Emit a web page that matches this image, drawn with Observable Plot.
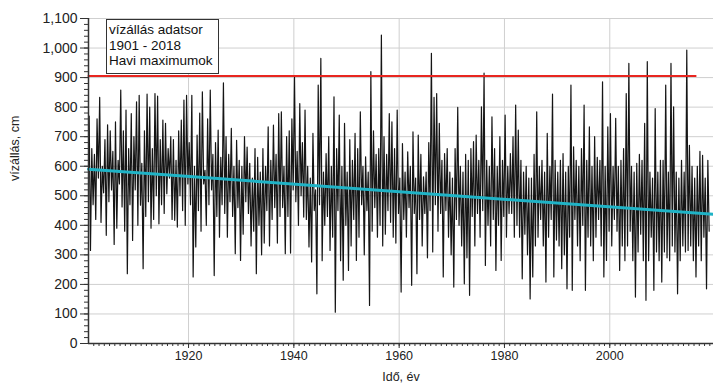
<!DOCTYPE html>
<html>
<head>
<meta charset="utf-8">
<script src="https://cdn.jsdelivr.net/npm/d3@7"></script>
<script src="https://cdn.jsdelivr.net/npm/@observablehq/plot@0.6"></script>
<style>
  html, body { margin: 0; padding: 0; background: #fff; }
  #wrap { position: relative; width: 713px; height: 388px; font-family: "Liberation Sans", Arial, sans-serif; }
  #legend { position: absolute; left: 106px; top: 19px; width: 109px; height: 51px; border: 1.5px solid #333; background: #fff;
            font-size: 13.5px; line-height: 15.5px; color: #111; padding: 2px 0 0 2px; box-sizing: content-box; white-space: nowrap; }
</style>
</head>
<body>
<div id="wrap"><div id="legend">vízállás adatsor<br>1901 - 2018<br>Havi maximumok</div></div>
<script>
// Monthly-maximum water level (cm), read as four turning points per year, 1901–2018
const startYear = 1901;
const levels = [
  770,315,660,470, 640,420,760,560, 833,410,600,510, 690,366,740,480, 720,520,650,335, // 1901-1905
  750,390,620,540, 858,462,720,380, 790,236,660,470, 778,349,700,520, 818,400,840,468, // 1906-1910
  610,253,720,430, 844,480,800,390, 660,420,846,500, 837,405,690,470, 756,440,745,507, // 1911-1915
  660,560,700,420, 690,417,620,394, 720,500,756,450, 824,400,840,540, 680,470,840,225, // 1916-1920
  600,327,705,450, 780,380,852,540, 586,400,760,470, 858,520,640,230, 680,430,722,360, // 1921-1925
  630,470,882,440, 700,360,640,480, 728,430,600,304, 688,460,620,281, 600,370,700,480, // 1926-1930
  665,440,610,330, 560,380,660,236, 630,400,580,300, 660,340,600,450, 733,330,620,420, // 1931-1935
  739,460,640,340, 778,430,784,460, 600,304,700,430, 720,306,760,520, 903,480,650,400, // 1936-1940
  812,500,680,428, 790,420,600,327, 560,276,711,450, 520,168,875,470, 965,280,580,400, // 1941-1945
  643,430,700,315, 600,360,835,106, 660,450,773,280, 600,214,745,400, 580,247,690,330, // 1946-1950
  620,420,711,281, 660,360,784,470, 600,300,632,450, 580,129,920,380, 720,460,640,360, // 1951-1955
  660,400,1044,330, 700,370,640,450, 778,410,750,360, 660,340,790,440, 560,174,677,420, // 1956-1960
  580,360,649,460, 600,197,716,440, 560,236,705,420, 640,330,564,440, 580,290,680,450, // 1961-1965
  982,310,833,470, 846,380,745,440, 620,225,643,450, 660,360,580,300, 560,191,660,420, // 1966-1970
  799,400,600,330, 580,202,640,290, 620,163,660,430, 683,330,705,440, 620,360,801,450, // 1971-1975
  915,264,620,400, 600,330,767,420, 660,247,600,400, 700,281,620,430, 773,360,600,440, // 1976-1980
  643,440,700,360, 807,400,722,360, 620,219,580,370, 600,300,560,151, 560,225,640,330, // 1981-1985
  784,360,600,420, 620,330,580,208, 711,360,600,420, 844,225,620,350, 580,330,620,253, // 1986-1990
  643,300,580,185, 600,360,875,180, 666,420,620,330, 600,280,660,400, 807,180,620,360, // 1991-1995
  733,330,600,280, 700,360,630,420, 620,330,886,225, 600,281,733,380, 778,330,600,420, // 1996-2000
  762,380,600,247, 620,330,660,280, 846,330,948,380, 600,280,580,157, 610,310,640,370, // 2001-2005
  620,280,745,146, 954,280,580,360, 560,180,795,310, 580,280,620,208, 620,310,875,290, // 2006-2010
  580,280,948,330, 801,310,580,168, 560,280,620,330, 580,310,993,315, 671,330,600,280, // 2011-2015
  560,225,600,330, 650,280,637,360, 560,185,620,380                                   // 2016-2018
];
// Long-term linear trend (cyan) end points
const trendYears = [1901, 2019.7];
const trendLevels = [590, 437];
// Red reference level
const alarmYears = [1901, 2016.3];
const alarmLevel = 905;
// Axis ticks
const xMajor = [1920, 1940, 1960, 1980, 2000];
const yMajor = d3.range(0, 1101, 100);

const series = levels.map((v, i) => ({t: startYear + 0.125 + i / 4, v}));
const trend = trendYears.map((t, i) => ({t, v: trendLevels[i]}));
const alarm = alarmYears.map(t => ({t, v: alarmLevel}));

const chart = Plot.plot({
  width: 713, height: 388,
  marginLeft: 88, marginRight: 0, marginTop: 18, marginBottom: 45,
  style: {fontFamily: "'Liberation Sans', Arial, sans-serif", fontSize: "13px", color: "#222", background: "#fff"},
  x: {domain: [1901, 2019.7]},
  y: {domain: [0, 1100]},
  marks: [
    Plot.gridY(yMajor.filter(d => d > 0), {stroke: "#cfcfcf", strokeOpacity: 1}),
    Plot.gridX(xMajor, {stroke: "#cfcfcf", strokeOpacity: 1}),
    Plot.line(series, {x: "t", y: "v", stroke: "#151515", strokeWidth: 1.2}),
    Plot.line(alarm, {x: "t", y: "v", stroke: "#e8251f", strokeWidth: 2}),
    Plot.line(trend, {x: "t", y: "v", stroke: "#1fb3c6", strokeWidth: 3}),
    Plot.axisY(d3.range(0, 1101, 20), {tickSize: 4, text: null, label: null, stroke: "#333"}),
    Plot.axisY(yMajor, {tickSize: 8, tickPadding: 3, tickFormat: d3.format(","), label: null, stroke: "#333", fontSize: 14}),
    Plot.axisX(d3.range(1902, 2020, 1), {tickSize: 3, text: null, label: null, stroke: "#333"}),
    Plot.axisX(xMajor, {tickSize: 5, tickPadding: 3, tickFormat: d => String(d), label: null, stroke: "#333", fontSize: 12.5}),
    Plot.ruleX([1901], {stroke: "#333", strokeWidth: 1.5}),
    Plot.ruleY([0], {stroke: "#333", strokeWidth: 1.5}),
    Plot.text(["vízállás, cm"], {frameAnchor: "left", dx: -74, rotate: -90, fontSize: 12.5, fill: "#222"}),
    Plot.text(["Idő, év"], {frameAnchor: "bottom", dy: 37, fontSize: 12.5, fill: "#222"})
  ]
});
document.getElementById("wrap").prepend(chart);
</script>
</body>
</html>
